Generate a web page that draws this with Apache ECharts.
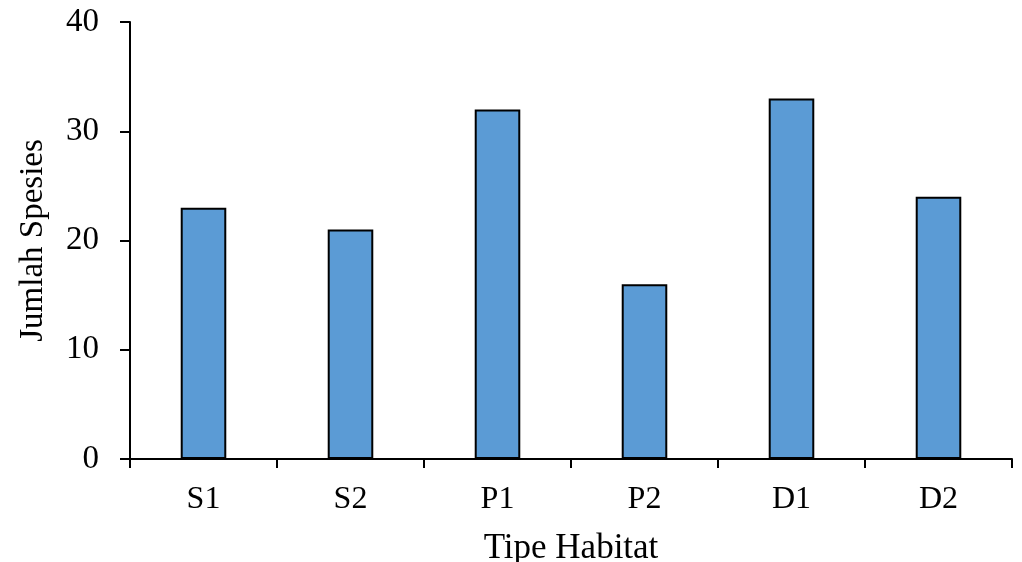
<!DOCTYPE html>
<html><head><meta charset="utf-8">
<script src="https://cdn.jsdelivr.net/npm/echarts@6/dist/echarts.min.js"></script>
<style>html,body{margin:0;padding:0;background:#fff}#c{width:1022px;height:562px}</style>
</head><body><div id="c"></div>
<script>
const categories = ['S1','S2','P1','P2','D1','D2'];
const values = [23, 21, 32, 16, 33, 24];
const yTicks = [0,10,20,30,40];
const font = 'Liberation Serif';
const chart = echarts.init(document.getElementById('c'));
chart.setOption({
  animation:false,
  backgroundColor:'#fff',
  grid:{left:130,right:10,top:22,bottom:103,containLabel:false,outerBoundsMode:'none'},
  xAxis:{type:'category',data:categories,
    name:'Tipe Habitat',nameLocation:'middle',nameGap:72,
    nameTextStyle:{fontFamily:font,fontSize:35,color:'#000'},
    axisLine:{lineStyle:{color:'#000',width:2}},
    axisTick:{show:true,alignWithLabel:false,length:9,lineStyle:{color:'#000',width:2}},
    axisLabel:{fontFamily:font,fontSize:32,color:'#000',margin:25}},
  yAxis:{type:'value',min:0,max:40,interval:10,
    name:'Jumlah Spesies',nameLocation:'middle',nameGap:80,
    nameTextStyle:{fontFamily:font,fontSize:33,color:'#000'},
    axisLine:{show:true,lineStyle:{color:'#000',width:2}},
    axisTick:{show:true,length:10,lineStyle:{color:'#000',width:2}},
    splitLine:{show:false},
    axisLabel:{fontFamily:font,fontSize:33,color:'#000',margin:31,
      formatter:v=>yTicks.includes(v)?String(v):''}},
  series:[{type:'bar',data:values,barWidth:'31%',
    itemStyle:{color:'#5B9BD5',borderColor:'#000',borderWidth:2}}]
});
</script></body></html>
